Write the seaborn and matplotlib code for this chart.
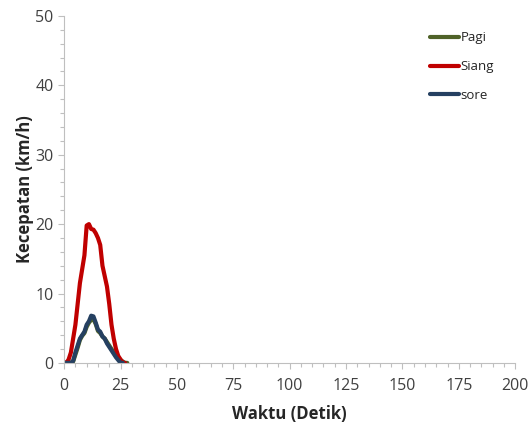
import matplotlib
matplotlib.use("Agg")
import matplotlib.pyplot as plt
import numpy as np
import pandas as pd
import seaborn as sns
from matplotlib.ticker import MultipleLocator

sns.set_style("white")
plt.rcParams['font.family'] = ['Open Sans', 'DejaVu Sans']

# data (time in s, speed in km/h)
waktu_pagi = list(range(0, 29))
pagi = [0, 0, 0, 0, 0.2, 1.2, 2.2, 3.3, 3.9, 4.3, 5.2, 5.8, 6.2, 6.3, 5.6,
        4.6, 4.3, 3.8, 3.5, 3.0, 2.5, 2.0, 1.5, 1.0, 0.7, 0.4, 0.2, 0, 0]
waktu_siang = list(range(0, 28))
siang = [0, 0, 0.5, 1.5, 3.5, 5.5, 8.5, 11.5, 13.5, 15.5, 19.8, 20, 19.3, 19.2,
         18.7, 18, 17, 14, 12.5, 11, 8.5, 5.5, 3.5, 2, 1, 0.5, 0, 0]
waktu_sore = list(range(0, 27))
sore = [0, 0, 0, 0, 0.3, 1.5, 2.5, 3.5, 4, 4.5, 5.5, 6, 6.8, 6.7, 5.8, 4.8,
        4.5, 3.8, 3.5, 2.8, 2.3, 1.8, 1.3, 0.8, 0.4, 0, 0]

colors = {'Pagi': '#4f6228', 'Siang': '#c00000', 'sore': '#254061'}

df = pd.concat([
    pd.DataFrame({'t': waktu_pagi, 'v': pagi, 'sesi': 'Pagi'}),
    pd.DataFrame({'t': waktu_siang, 'v': siang, 'sesi': 'Siang'}),
    pd.DataFrame({'t': waktu_sore, 'v': sore, 'sesi': 'sore'}),
])

fig = plt.figure(figsize=(5.3, 4.32), dpi=100)
ax = fig.add_axes([0.121, 0.160, 0.851, 0.803])
sns.lineplot(data=df, x='t', y='v', hue='sesi', palette=colors, lw=3, ax=ax)

ax.set_xlim(0, 200)
ax.set_ylim(0, 50)
ax.xaxis.set_major_locator(MultipleLocator(25))
ax.xaxis.set_minor_locator(MultipleLocator(5))
ax.yaxis.set_major_locator(MultipleLocator(10))
ax.yaxis.set_minor_locator(MultipleLocator(2))
for s in ['top', 'right']:
    ax.spines[s].set_visible(False)
for s in ['left', 'bottom']:
    ax.spines[s].set_color('#bfbfbf')
ax.tick_params(which='both', direction='out', color='#bfbfbf', labelcolor='#404040', labelsize=11.5)
ax.tick_params(which='major', length=4, width=0.8, left=True, bottom=True)
ax.tick_params(which='minor', length=3, width=0.8, left=True, bottom=True)
ax.tick_params(axis='x', pad=7)

ax.set_xlabel('Waktu (Detik)', fontsize=12, fontweight='bold', labelpad=8)
ax.set_ylabel('Kecepatan (km/h)', fontsize=12, fontweight='bold', labelpad=1)

leg = ax.legend(loc='upper right', bbox_to_anchor=(0.98, 0.99), frameon=False, fontsize=9.5,
                handlelength=2.2, handletextpad=0.1, labelspacing=1.2)

fig.savefig('out.png', dpi=100)
